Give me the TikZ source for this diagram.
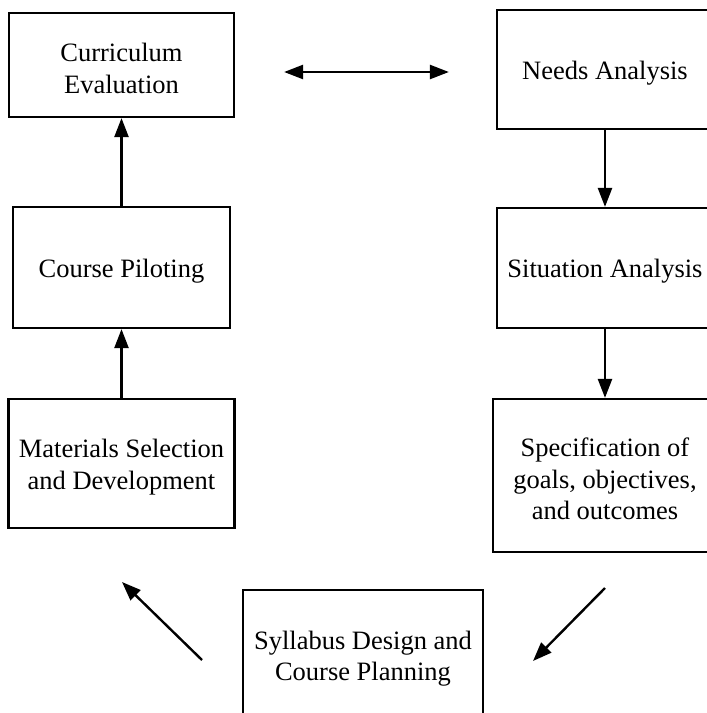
\documentclass[tikz,border=0pt]{standalone}
\usepackage{fontspec}
\setmainfont{Liberation Serif}
\usetikzlibrary{arrows.meta}
\tikzset{
  stage/.style={draw, line width=2.2pt, inner sep=0pt},
  caption/.style={align=center, inner sep=0pt, yshift=-3.5pt,
    font=\fontsize{26.5}{31.5}\selectfont},
  flow/.style={line width=2.4pt, -{Triangle[length=19pt,width=14pt]}},
  twoway/.style={line width=2.4pt, {Triangle[length=19pt,width=14pt]}-{Triangle[length=19pt,width=14pt]}},
}
\begin{document}
\begin{tikzpicture}[x=1pt,y=-1pt]
    \useasboundingbox (0,0) rectangle (707,713);
    \clip (0,0) rectangle (707,713);
    % left column
    \node[stage, minimum width=225pt, minimum height=104pt] (eval) at (121.5,65) {};
    \node[stage, minimum width=217pt, minimum height=121pt] (pilot) at (121.5,267.5) {};
    \node[stage, minimum width=226pt, minimum height=129pt] (mater) at (121.5,463.5) {};
    % right column
    \node[stage, minimum width=216pt, minimum height=119pt] (needs) at (605,69.5) {};
    \node[stage, minimum width=216pt, minimum height=120pt] (situ) at (605,268) {};
    \node[stage, minimum width=224pt, minimum height=153pt] (spec) at (605,475.5) {};
    % bottom
    \node[stage, minimum width=240pt, minimum height=130pt] (syll) at (363,655) {};
    % texts
    \node[caption] (evaltext) at (eval) {Curriculum\\Evaluation};
    \node[caption] (pilottext) at (pilot) {Course Piloting};
    \node[caption] (matertext) at (mater) {Materials Selection\\and Development};
    \node[caption] (needstext) at (needs) {Needs Analysis};
    \node[caption] (situtext) at (situ) {Situation Analysis};
    \node[caption] (spectext) at (spec) {Specification of\\goals, objectives,\\and outcomes};
    \node[caption] (sylltext) at (syll) {Syllabus Design and\\Course Planning};
    % arrows
    \coordinate (ra) at (605,588);
    \coordinate (rb) at (533,661);
    \coordinate (la) at (202,660);
    \coordinate (lb) at (122,582);
    \draw[twoway, shorten <=49pt, shorten >=47pt] ([yshift=-7pt]eval.east) -- ([yshift=-7pt]eval.east -| needs.west);
    \draw[flow] (needs) -- (situ);
    \draw[flow] (situ) -- (spec);
    \draw[flow] (ra) -- (rb);
    \draw[flow] (la) -- (lb);
    \draw[flow] (mater) -- (pilot);
    \draw[flow] (pilot) -- (eval);
\end{tikzpicture}
\end{document}
